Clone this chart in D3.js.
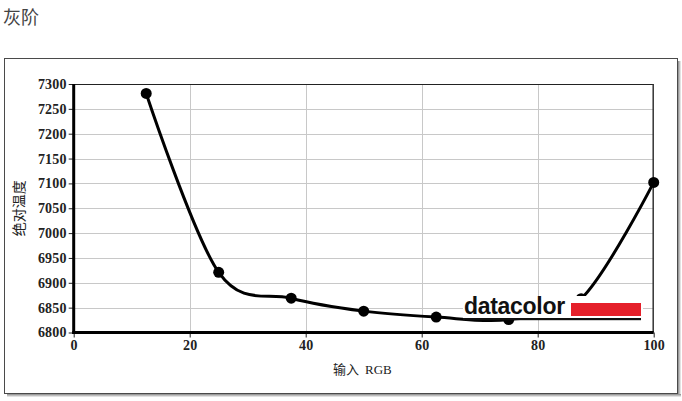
<!DOCTYPE html>
<html><head><meta charset="utf-8">
<script src="https://cdn.jsdelivr.net/npm/d3@7"></script>
<style>
html,body{margin:0;padding:0;background:#fff;}
svg{display:block;}
</style></head>
<body>
<script>
const title = "灰阶";
const xLabel = "输入 RGB";
const yLabel = "绝对温度";
const inputRGB = [12.5, 25, 37.5, 50, 62.5, 75, 87.5, 100];
const cct = [7281, 6921, 6869, 6843, 6831, 6826, 6868, 7102];
const xTicks = [0, 20, 40, 60, 80, 100];
const yTicks = [6800, 6850, 6900, 6950, 7000, 7050, 7100, 7150, 7200, 7250, 7300];

const W = 682, H = 401;
const svg = d3.select("body").append("svg").attr("width", W).attr("height", H);

const defs = svg.append("defs");
const gr = defs.append("linearGradient").attr("id","shR").attr("x1",0).attr("x2",1).attr("y1",0).attr("y2",0);
gr.append("stop").attr("offset","0%").attr("stop-color","#888");
gr.append("stop").attr("offset","100%").attr("stop-color","#f4f4f4");
const gb = defs.append("linearGradient").attr("id","shB").attr("x1",0).attr("x2",0).attr("y1",0).attr("y2",1);
gb.append("stop").attr("offset","0%").attr("stop-color","#888");
gb.append("stop").attr("offset","100%").attr("stop-color","#f4f4f4");

svg.append("text").attr("x", 3).attr("y", 24)
  .attr("font-family", "'Noto Sans CJK SC', sans-serif").attr("font-size", 18)
  .attr("fill", "#444").text(title);

svg.append("rect").attr("x", 678).attr("y", 61).attr("width", 3).attr("height", 336).attr("fill","url(#shR)");
svg.append("rect").attr("x", 7).attr("y", 394).attr("width", 674).attr("height", 3).attr("fill","url(#shB)");
svg.append("rect").attr("x", 4.5).attr("y", 58.5).attr("width", 673).attr("height", 335)
  .attr("fill", "#fff").attr("stroke", "#4a4a4a").attr("stroke-width", 1);

const L = 73.7, R = 653.7, T = 84, B = 332.5;
const x = d3.scaleLinear().domain([0, 100]).range([L, R]);
const y = d3.scaleLinear().domain([6800, 7300]).range([B, T]);

const tickFont = "'Liberation Serif', serif";

const g = svg.append("g");
g.selectAll("line.gy").data(yTicks.filter(v => v > 6800 && v < 7300)).join("line")
  .attr("x1", L).attr("x2", R).attr("y1", d => Math.round(y(d)) + 0.5).attr("y2", d => Math.round(y(d)) + 0.5)
  .attr("stroke", "#c8c8c8").attr("stroke-width", 1);
g.selectAll("line.gx").data(xTicks.filter(v => v > 0 && v < 100)).join("line")
  .attr("y1", T).attr("y2", B).attr("x1", d => Math.round(x(d)) + 0.5).attr("x2", d => Math.round(x(d)) + 0.5)
  .attr("stroke", "#c8c8c8").attr("stroke-width", 1);

svg.append("line").attr("x1", L).attr("x2", R).attr("y1", T + 0.5).attr("y2", T + 0.5).attr("stroke", "#222").attr("stroke-width", 1);
svg.append("line").attr("x1", R - 0.5).attr("x2", R - 0.5).attr("y1", T).attr("y2", B).attr("stroke", "#333").attr("stroke-width", 1.5);

const yAxis = d3.axisLeft(y).tickValues(yTicks).tickSize(5).tickPadding(2).tickFormat(d3.format("d"));
const ya = svg.append("g").attr("transform", `translate(${L},0)`).call(yAxis);
ya.select(".domain").remove();
ya.selectAll(".tick line").attr("stroke", "#222");
ya.selectAll(".tick text").attr("font-family", tickFont).attr("font-size", 14).attr("fill", "#222").attr("font-weight","bold").attr("letter-spacing","0.2px");

const xAxis = d3.axisBottom(x).tickValues(xTicks).tickSize(5).tickPadding(3).tickFormat(d3.format("d"));
const xa = svg.append("g").attr("transform", `translate(0,${B})`).call(xAxis);
xa.select(".domain").remove();
xa.selectAll(".tick line").attr("stroke", "#222");
xa.selectAll(".tick text").attr("font-family", tickFont).attr("font-size", 14).attr("fill", "#222").attr("font-weight","bold").attr("letter-spacing","0.2px");

svg.append("line").attr("x1", L).attr("x2", L).attr("y1", T).attr("y2", B + 1.5).attr("stroke", "#000").attr("stroke-width", 3);
svg.append("line").attr("x1", L - 1.5).attr("x2", R).attr("y1", B).attr("y2", B).attr("stroke", "#000").attr("stroke-width", 3);

svg.append("text").attr("transform", `translate(24,${(T + B) / 2}) rotate(-90)`)
  .attr("text-anchor", "middle").attr("font-family", "'Noto Sans CJK SC', sans-serif")
  .attr("font-size", 14).attr("fill", "#222").text(yLabel);
const xl = svg.append("text").attr("x", 333).attr("y", 374).attr("font-size", 13).attr("fill", "#222");
xl.append("tspan").attr("font-family", "'Noto Sans CJK SC', sans-serif").text(xLabel.split(" ")[0]);
xl.append("tspan").attr("font-family", tickFont).attr("dx", 6).text(xLabel.split(" ")[1]);

const pts = inputRGB.map((v, i) => [v, cct[i]]);
const line = d3.line().x(d => x(d[0])).y(d => y(d[1])).curve(d3.curveCardinal.tension(0));
svg.append("path").datum(pts).attr("d", line).attr("fill", "none").attr("stroke", "#000").attr("stroke-width", 3);
svg.selectAll("circle.pt").data(pts).join("circle")
  .attr("cx", d => x(d[0])).attr("cy", d => y(d[1])).attr("r", 5.5).attr("fill", "#000");

const logo = svg.append("g");
logo.append("rect").attr("x", 463).attr("y", 296).attr("width", 180).attr("height", 22).attr("fill", "#fff");
logo.append("text").attr("x", 464).attr("y", 314).attr("font-family", "'Liberation Sans', Arial, sans-serif")
  .attr("font-weight", "bold").attr("font-size", 23).attr("letter-spacing", "-0.3px").attr("fill", "#111").text("datacolor");
logo.append("rect").attr("x", 571).attr("y", 303).attr("width", 70).attr("height", 13).attr("fill", "#e5202a");
logo.append("rect").attr("x", 463).attr("y", 318).attr("width", 178).attr("height", 2.2).attr("fill", "#111");
</script>
</body></html>
